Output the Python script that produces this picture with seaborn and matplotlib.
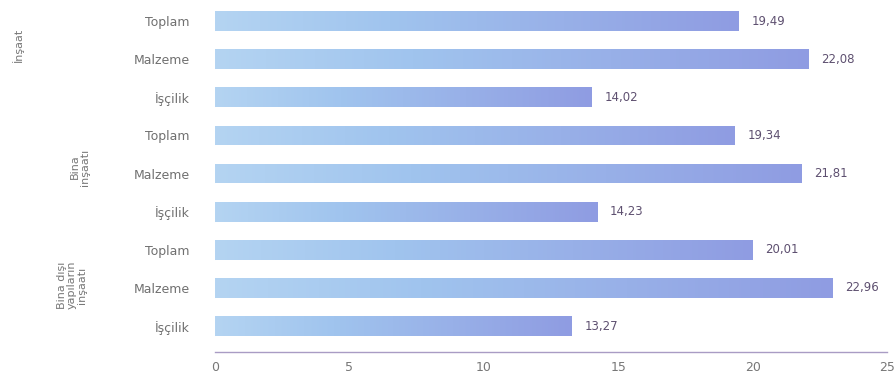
import matplotlib
matplotlib.use("Agg")
import matplotlib.pyplot as plt
import seaborn as sns
import numpy as np
import pandas as pd
from matplotlib.colors import LinearSegmentedColormap

# ---- data ----
groups = ["İnşaat", "Bina inşaatı", "Bina dışı yapıların inşaatı"]
group_labels = ["İnşaat", "Bina\ninşaatı", "Bina dışı\nyapıların\ninşaatı"]
components = ["Toplam", "Malzeme", "İşçilik"]
values = [19.49, 22.08, 14.02, 19.34, 21.81, 14.23, 20.01, 22.96, 13.27]
x_ticks = [0, 5, 10, 15, 20, 25]

sns.set_theme(style="white")
plt.rcParams['font.family'] = ['DejaVu Sans']

rows = []
for gi, g in enumerate(groups):
    for ci, c in enumerate(components):
        rows.append({"key": f"{g} – {c}", "group": g, "component": c,
                     "value": values[gi * 3 + ci]})
df = pd.DataFrame(rows)

W, H = 895, 392
fig = plt.figure(figsize=(W / 100, H / 100), dpi=100)
ax = fig.add_axes([215 / W, 1 - 352 / H, (887 - 215) / W, (352 - 2) / H])

sns.barplot(data=df, x="value", y="key", orient="h", color="#a4c4ee",
            width=0.52, saturation=1, ax=ax)

ax.set_xlim(0, 25)
ax.set_ylim(8.68, -0.5)

# gradient fill on bars
cmap = LinearSegmentedColormap.from_list("g", ["#b4d4f2", "#a0c4ee", "#98b0e8", "#8f9ce2"])
grad = np.linspace(0, 1, 256).reshape(1, -1)
for p in list(ax.patches):
    x0, y0 = p.get_x(), p.get_y()
    w, h = p.get_width(), p.get_height()
    im = ax.imshow(grad, extent=[x0, x0 + w, y0 + h, y0], aspect="auto",
                   cmap=cmap, vmin=0, vmax=1, zorder=p.get_zorder() + 0.1)
    im.set_clip_path(p)
ax.set_xlim(0, 25)
ax.set_ylim(8.68, -0.5)

# value labels
for cont in ax.containers:
    ax.bar_label(cont, labels=[f"{v:.2f}".replace(".", ",") for v in cont.datavalues],
                 padding=9, fontsize=8.5, color="#5e5070")

ax.set_yticks(range(len(df)))
ax.set_yticklabels(df["component"].tolist(), fontsize=9, color="#707070")
ax.set_xticks(x_ticks)
ax.set_xticklabels([str(t) for t in x_ticks], fontsize=9, color="#777777")
ax.tick_params(axis="y", length=0, pad=18)
ax.tick_params(axis="x", length=3, direction="inout", color="#aaaaaa", pad=5)
ax.set_xlabel("")
ax.set_ylabel("")
for s in ["top", "right", "left"]:
    ax.spines[s].set_visible(False)
ax.spines["bottom"].set_color("#a99cc4")
ax.spines["bottom"].set_linewidth(1.0)

# group labels (rotated)
group_pos = [(18, 45), (80, 167), (72, 285)]
for lbl, (px, py) in zip(group_labels, group_pos):
    fig.text(px / W, 1 - py / H, lbl, rotation=90, ha="center", va="center",
             fontsize=8, color="#777777", multialignment="center", linespacing=1.0)

fig.savefig("out.png", dpi=100)
